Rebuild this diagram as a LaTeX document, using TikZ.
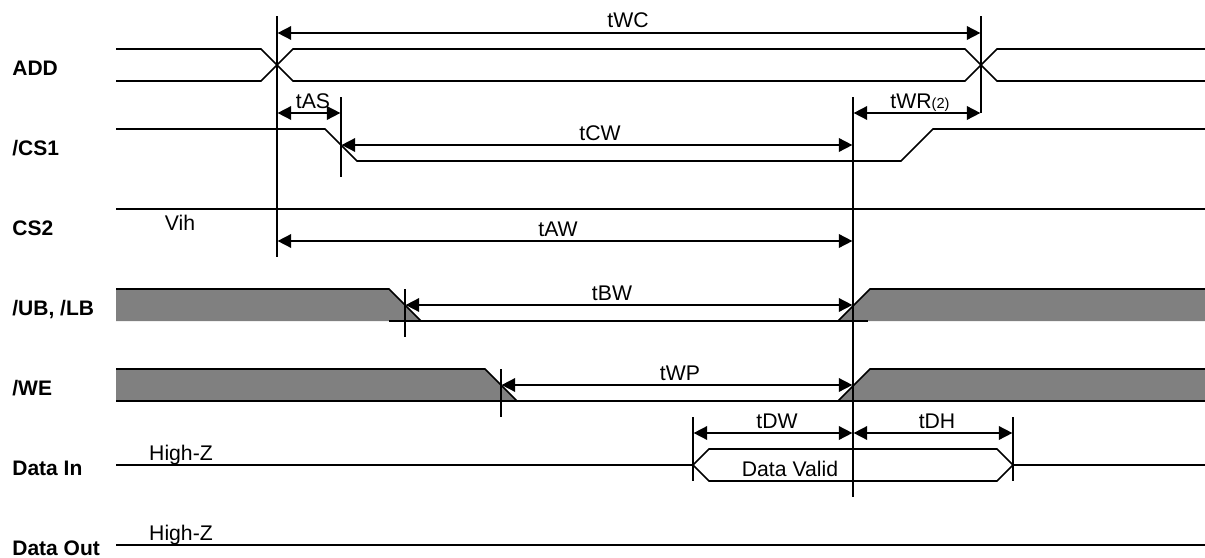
\documentclass[tikz,border=0pt]{standalone}
\usepackage{fontspec}
\setmainfont{Liberation Sans}
\usetikzlibrary{arrows.meta}
\tikzset{
  x=0.5pt,y=-0.5pt,
  wave/.style={line width=0.85pt,line join=miter},
  guide/.style={line width=0.85pt},
  dim/.style={line width=0.85pt,{Triangle[length=6.8pt,width=6.8pt]}-{Triangle[length=6.8pt,width=6.8pt]},shorten <=0.3pt,shorten >=0.3pt},
  txt/.style={anchor=base,inner sep=0pt,font=\fontsize{10.6}{12}\selectfont,text=black},
  sig/.style={anchor=base west,inner sep=0pt,font=\fontsize{10.5}{12}\selectfont\bfseries,text=black},
  shade/.style={fill=black!50!white,draw=none}
}
\begin{document}
\begin{tikzpicture}
\useasboundingbox (0,0) rectangle (1205,557);
% shaded regions
\fill[shade] (116,289) -- (389,289) -- (421,321) -- (116,321) -- cycle;
\fill[shade] (870,289) -- (1205,289) -- (1205,321) -- (838,321) -- cycle;
\fill[shade] (116,369) -- (485,369) -- (517,401) -- (116,401) -- cycle;
\fill[shade] (870,369) -- (1205,369) -- (1205,401) -- (838,401) -- cycle;
% waveforms
\draw[wave] (116,49) -- (261,49) -- (293,81) -- (965,81) -- (997,49) -- (1205,49);
\draw[wave] (116,81) -- (261,81) -- (293,49) -- (965,49) -- (997,81) -- (1205,81);
\draw[wave] (116,129) -- (325,129) -- (357,161) -- (901,161) -- (933,129) -- (1205,129);
\draw[wave] (116,209) -- (1205,209);
\draw[wave] (116,289) -- (389,289) -- (421,321) -- (838,321) -- (870,289) -- (1205,289);
\draw[wave] (389,321) -- (421,321);
\draw[wave] (838,321) -- (868,321);
\draw[wave] (116,369) -- (485,369) -- (517,401) -- (838,401) -- (870,369) -- (1205,369);
\draw[wave] (116,401) -- (1205,401);
\draw[wave] (116,465) -- (693,465) -- (709,449) -- (997,449) -- (1013,465) -- (1205,465);
\draw[wave] (693,465) -- (709,481) -- (997,481) -- (1013,465);
\draw[wave] (116,545) -- (1205,545);
% guide lines
\coordinate (a1) at (277,16);  \coordinate (a2) at (277,257);
\coordinate (b1) at (981,16);  \coordinate (b2) at (981,113);
\coordinate (c1) at (341,97);  \coordinate (c2) at (341,177);
\coordinate (d1) at (853,97);  \coordinate (d2) at (853,497);
\coordinate (e1) at (405,289); \coordinate (e2) at (405,337);
\coordinate (f1) at (501,369); \coordinate (f2) at (501,417);
\coordinate (g1) at (693,417); \coordinate (g2) at (693,481);
\coordinate (h1) at (1013,417);\coordinate (h2) at (1013,481);
\foreach \p/\q in {a1/a2,b1/b2,c1/c2,d1/d2,e1/e2,f1/f2,g1/g2,h1/h2}
  \draw[guide] (\p) -- (\q);
% dimension arrows
\draw[dim] (a1 |- 0,33)  -- (b1 |- 0,33);
\draw[dim] (a1 |- 0,113) -- (c1 |- 0,113);
\draw[dim] (d1 |- 0,113) -- (b1 |- 0,113);
\draw[dim] (c1 |- 0,145) -- (d1 |- 0,145);
\draw[dim] (a1 |- 0,241) -- (d1 |- 0,241);
\draw[dim] (e1 |- 0,305) -- (d1 |- 0,305);
\draw[dim] (f1 |- 0,385) -- (d1 |- 0,385);
\draw[dim] (g1 |- 0,433) -- (d1 |- 0,433);
\draw[dim] (d1 |- 0,433) -- (h1 |- 0,433);
% timing labels
\node[txt] (tWC) at (628,27) {tWC};
\node[txt] (tAS) at (313,108) {tAS};
\node[txt] (tWR) at (920,108) {tWR{\fontsize{7.3}{8}\selectfont(2)}};
\node[txt] (tCW) at (600,140) {tCW};
\node[txt] (Vih) at (180,230) {Vih};
\node[txt] (tAW) at (558,236) {tAW};
\node[txt] (tBW) at (612,300) {tBW};
\node[txt] (tWP) at (680,380) {tWP};
\node[txt] (tDW) at (777,428) {tDW};
\node[txt] (tDH) at (937,428) {tDH};
\node[txt] (valid) at (790,476) {Data Valid};
\node[txt] (hz1) at (181,460) {High-Z};
\node[txt] (hz2) at (181,540) {High-Z};
% signal names
\node[sig] (ADD) at (12,75) {ADD};
\node[sig] (CSa) at (12,155) {/CS1};
\node[sig] (CSb) at (12,235) {CS2};
\node[sig] (UB) at (12,315) {/UB, /LB};
\node[sig] (WE) at (12,395) {/WE};
\node[sig] (DI) at (12,475) {Data In};
\node[sig] (DO) at (12,555) {Data Out};
\end{tikzpicture}
\end{document}
